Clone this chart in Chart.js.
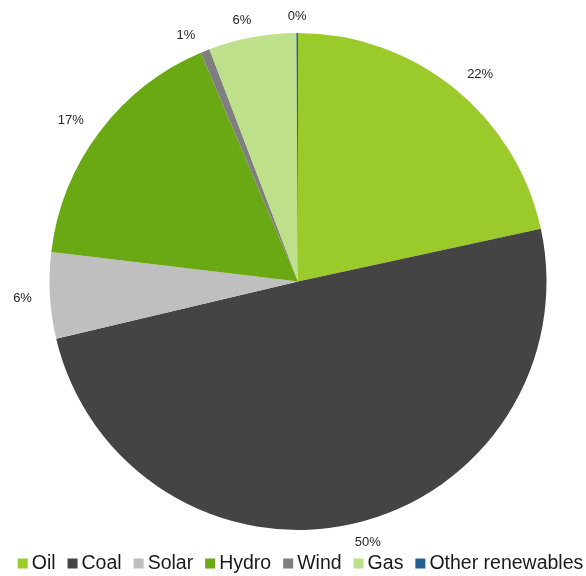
<!DOCTYPE html>
<html>
<head>
<meta charset="utf-8">
<script src="https://cdn.jsdelivr.net/npm/chart.js@4"></script>
<style>
  html, body { margin: 0; padding: 0; background: #fff; }
  #wrap { width: 586px; height: 576px; }
</style>
</head>
<body>
<div id="wrap"><canvas id="energyChart" width="586" height="576"></canvas></div>
<script>
// Data
const categories = ["Oil", "Coal", "Solar", "Hydro", "Wind", "Gas", "Other renewables"];
const shares = [21.6, 49.7, 5.6, 16.7, 0.6, 5.7, 0.1];
const sliceColors = ["#9BCB2A", "#444444", "#BFBFBF", "#6AA814", "#7F7F7F", "#BEE08A", "#255E91"];

// soft sign, used to anchor the label box away from the pie
function soft(t) {
  return Math.max(-1, Math.min(1, t * 3));
}

// Percentage labels outside each slice
const outsideLabels = {
  id: "outsideLabels",
  afterDatasetsDraw(chart) {
    const ctx = chart.ctx;
    const meta = chart.getDatasetMeta(0);
    const total = shares.reduce((a, b) => a + b, 0);
    const fontSize = 13;
    ctx.save();
    ctx.font = fontSize + "px 'Liberation Sans', Arial, sans-serif";
    ctx.fillStyle = "#262626";
    ctx.textAlign = "center";
    ctx.textBaseline = "alphabetic";
    meta.data.forEach((arc, i) => {
      const p = arc.getProps(["x", "y", "startAngle", "endAngle", "outerRadius"], true);
      const mid = (p.startAngle + p.endAngle) / 2;
      const text = Math.round((shares[i] / total) * 100) + "%";
      const w = ctx.measureText(text).width;
      const ux = Math.cos(mid);
      const uy = Math.sin(mid);
      const d = p.outerRadius + 13;
      const cx = p.x + ux * d + soft(ux) * (w / 2 + 5);
      const cy = p.y + uy * d + soft(uy) * 5;
      ctx.fillText(text, cx, cy + fontSize * 0.716 / 2);
    });
    ctx.restore();
  },
};

// Legend along the bottom
const bottomLegend = {
  id: "bottomLegend",
  afterDraw(chart) {
    const ctx = chart.ctx;
    const box = 10;
    const innerGap = 4;
    const itemGap = 12;
    ctx.save();
    ctx.font = "19.5px 'Liberation Sans', Arial, sans-serif";
    ctx.textBaseline = "alphabetic";
    ctx.textAlign = "left";
    const widths = categories.map((c) => ctx.measureText(c).width);
    let total = 0;
    widths.forEach((w, i) => {
      total += box + innerGap + w + (i < widths.length - 1 ? itemGap : 0);
    });
    let x = 300.5 - total / 2;
    const baseline = 569;
    categories.forEach((c, i) => {
      ctx.fillStyle = sliceColors[i];
      ctx.fillRect(x, baseline - 10.5, box, box);
      x += box + innerGap;
      ctx.fillStyle = "#1a1a1a";
      ctx.fillText(c, x, baseline);
      x += widths[i] + itemGap;
    });
    ctx.restore();
  },
};

new Chart(document.getElementById("energyChart"), {
  type: "pie",
  data: {
    labels: categories,
    datasets: [
      {
        data: shares,
        backgroundColor: sliceColors,
        borderWidth: 0,
      },
    ],
  },
  options: {
    responsive: false,
    animation: false,
    layout: {
      padding: { top: 33, bottom: 46, left: 49, right: 39 },
    },
    plugins: {
      legend: { display: false },
      tooltip: { enabled: false },
    },
  },
  plugins: [outsideLabels, bottomLegend],
});
</script>
</body>
</html>
